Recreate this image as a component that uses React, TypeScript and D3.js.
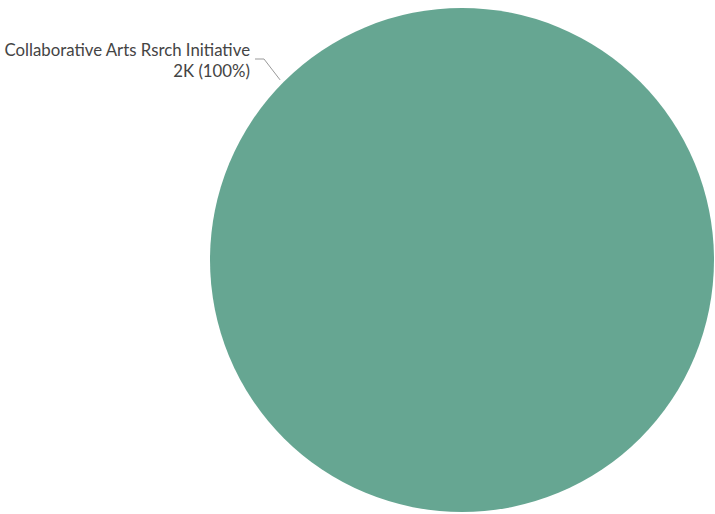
import React from "react";
import * as d3 from "d3";

const categories = ["Collaborative Arts Rsrch Initiative"];
const values = [2000];
const valueLabels = ["2K"];
const colors = ["#66a692"];

export default function App() {
  const width = 715;
  const height = 514;
  const cx = 462;
  const cy = 260;
  const r = 252;
  const pie = d3.pie<number>().sort(null)(values);
  const arc = d3.arc<d3.PieArcDatum<number>>().innerRadius(0).outerRadius(r);
  const total = d3.sum(values);
  const pct = d3.format(".0%");
  const ang = -Math.PI / 4 - 0.005;
  const p0: [number, number] = [cx + Math.sin(ang) * (r + 4), cy - Math.cos(ang) * (r + 4)];
  const p1: [number, number] = [264, 59];
  const p2: [number, number] = [255, 59];
  return (
    <svg width={width} height={height} style={{ position: "absolute", left: 0, top: 0 }}>
      <g transform={`translate(${cx},${cy})`}>
        {pie.map((d, i) => (
          <path key={i} d={arc(d) || ""} fill={colors[i]} />
        ))}
      </g>
      <polyline
        points={[p0, p1, p2].map((p) => p.join(",")).join(" ")}
        fill="none"
        stroke="#999"
        strokeWidth={1}
      />
      {pie.map((d, i) => (
        <text
          key={i}
          textAnchor="end"
          fontFamily="Lato, 'Open Sans', sans-serif"
          fontSize={16.8}
          fill="#444"
        >
          <tspan x={250} y={56}>{categories[i]}</tspan>
          <tspan x={250} y={77}>{`${valueLabels[i]} (${pct(d.data / total)})`}</tspan>
        </text>
      ))}
    </svg>
  );
}
